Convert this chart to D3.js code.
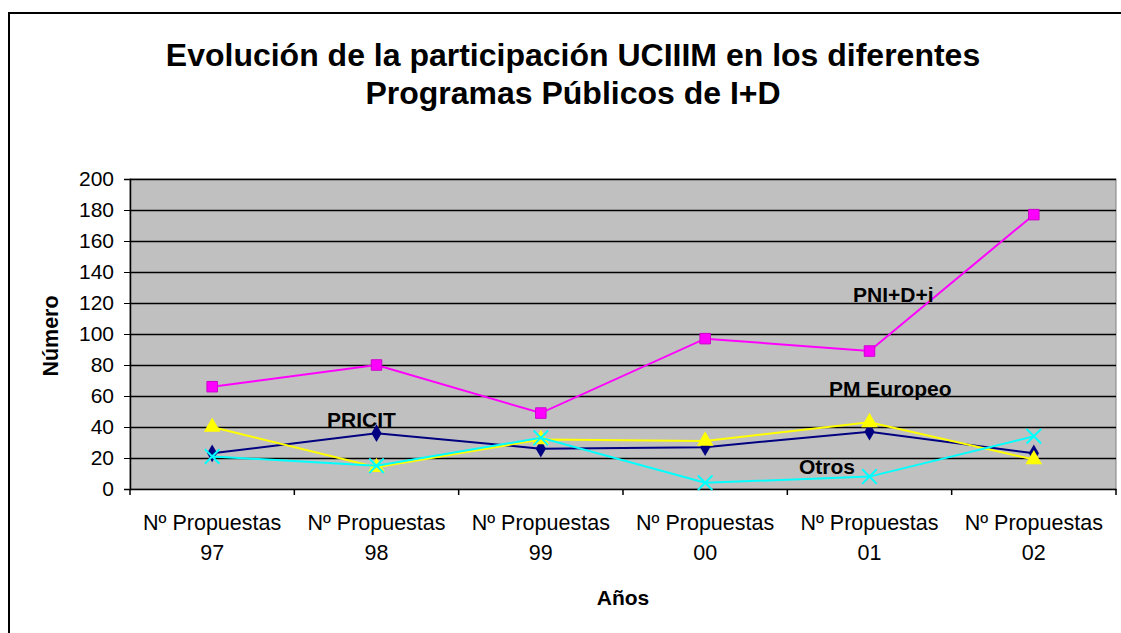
<!DOCTYPE html>
<html>
<head>
<meta charset="utf-8">
<script src="https://cdn.jsdelivr.net/npm/d3@7"></script>
<style>
  body { margin: 0; background: #fff; }
  svg { display: block; font-family: Arial, "Liberation Sans", sans-serif; }
</style>
</head>
<body>
<svg id="chart" width="1121" height="633"></svg>
<script>
const years = ["97", "98", "99", "00", "01", "02"]
const yTicks = [0, 20, 40, 60, 80, 100, 120, 140, 160, 180, 200]

const pricit = [23, 36, 26, 27, 37, 23]
const pniDi = [66, 80, 49, 97, 89, 177]
const pmEuropeo = [40, 14, 32, 31, 43, 19]
const otros = [21, 15, 33, 4, 8, 34]

const series = [
    { name: "PRICIT", values: pricit, color: "#000080", marker: "diamond", label: [327, 427] },
    { name: "PNI+D+i", values: pniDi, color: "#ff00ff", marker: "square", label: [853, 302] },
    { name: "PM Europeo", values: pmEuropeo, color: "#ffff00", marker: "triangle", label: [829, 396] },
    { name: "Otros", values: otros, color: "#00ffff", marker: "cross", label: [799, 474] }
]

const svg = d3.select("#chart")
const plot = { left: 130, right: 1116, top: 179, bottom: 489 }

// outer frame, runs off the right and bottom like the original
svg.append("rect")
    .attr("x", 9).attr("y", 13)
    .attr("width", 1200).attr("height", 700)
    .attr("fill", "none").attr("stroke", "#000").attr("stroke-width", 2)

svg.append("text")
    .attr("x", 573).attr("y", 66)
    .attr("text-anchor", "middle")
    .attr("font-size", 32).attr("font-weight", "bold")
    .text("Evolución de la participación UCIIIM en los diferentes")
svg.append("text")
    .attr("x", 573).attr("y", 104)
    .attr("text-anchor", "middle")
    .attr("font-size", 32).attr("font-weight", "bold")
    .text("Programas Públicos de I+D")

const x = d3.scaleBand().domain(years).range([plot.left, plot.right])
const y = d3.scaleLinear().domain([0, 200]).range([plot.bottom, plot.top])

svg.append("rect")
    .attr("x", plot.left).attr("y", plot.top)
    .attr("width", plot.right - plot.left).attr("height", plot.bottom - plot.top)
    .attr("fill", "#c0c0c0").attr("stroke", "#808080").attr("stroke-width", 1)

// gridlines
svg.append("g")
    .selectAll("line")
    .data(yTicks.filter(d => d > 0))
    .join("line")
    .attr("x1", plot.left).attr("x2", plot.right)
    .attr("y1", d => Math.round(y(d)) + 0.5).attr("y2", d => Math.round(y(d)) + 0.5)
    .attr("stroke", "#000").attr("stroke-width", 1.3)

// y axis
const yAxis = svg.append("g")
    .attr("transform", `translate(${plot.left},0)`)
    .call(d3.axisLeft(y).tickValues(yTicks).tickSize(6).tickPadding(10))
yAxis.select(".domain").attr("stroke", "#000").attr("stroke-width", 1.5)
yAxis.selectAll("text").attr("font-size", 21).attr("fill", "#000").attr("font-family", "Arial, 'Liberation Sans', sans-serif")

// x axis
const xAxis = svg.append("g")
    .attr("transform", `translate(0,${plot.bottom})`)
    .call(d3.axisBottom(x).tickSize(0).tickFormat(""))
xAxis.select(".domain").attr("stroke", "#000").attr("stroke-width", 1.5)

const bounds = years.map(d => x(d)).concat([plot.right])
svg.append("g").selectAll("line")
    .data(bounds)
    .join("line")
    .attr("x1", d => d).attr("x2", d => d)
    .attr("y1", plot.bottom).attr("y2", plot.bottom + 6)
    .attr("stroke", "#000").attr("stroke-width", 1.5)

const xl = svg.append("g").selectAll("text")
    .data(years)
    .join("text")
    .attr("text-anchor", "middle")
    .attr("font-size", 21.5)
    .attr("x", d => x(d) + x.bandwidth() / 2)
xl.append("tspan").attr("x", d => x(d) + x.bandwidth() / 2).attr("y", 530).text("Nº Propuestas")
xl.append("tspan").attr("x", d => x(d) + x.bandwidth() / 2).attr("y", 560).text(d => d)

svg.append("text")
    .attr("x", (plot.left + plot.right) / 2).attr("y", 605)
    .attr("text-anchor", "middle")
    .attr("font-size", 21).attr("font-weight", "bold")
    .text("Años")

svg.append("text")
    .attr("transform", `translate(58,${(plot.top + plot.bottom) / 2 + 2}) rotate(-90)`)
    .attr("text-anchor", "middle")
    .attr("font-size", 21.5).attr("font-weight", "bold")
    .text("Número")

const cx = i => x(years[i]) + x.bandwidth() / 2
const line = d3.line().x((d, i) => cx(i)).y(d => y(d))

const symbols = {
    diamond: d3.symbol().type(d3.symbolDiamond).size(90),
    square: d3.symbol().type(d3.symbolSquare).size(110),
    triangle: d3.symbol().type(d3.symbolTriangle).size(120),
    cross: d3.symbol().type(d3.symbolX).size(140)
}

// draw order as in the original: PRICIT, PNI, PM, Otros
series.forEach(s => {
    const g = svg.append("g")
    g.append("path")
        .datum(s.values)
        .attr("d", line)
        .attr("fill", "none")
        .attr("stroke", s.color).attr("stroke-width", 2)

    const m = g.selectAll("path.mk")
        .data(s.values)
        .join("path")
        .attr("class", "mk")
        .attr("transform", (d, i) => `translate(${cx(i)},${y(d)})`)
        .attr("d", symbols[s.marker])

    if (s.marker === "cross") {
        m.attr("fill", "none").attr("stroke", s.color).attr("stroke-width", 2)
    } else if (s.marker === "square") {
        m.attr("fill", s.color).attr("stroke", "#cc00cc").attr("stroke-width", 1)
    } else {
        m.attr("fill", s.color)
    }

    svg.append("text")
        .attr("x", s.label[0]).attr("y", s.label[1])
        .attr("font-size", 21).attr("font-weight", "bold")
        .text(s.name)
})
</script>
</body>
</html>
